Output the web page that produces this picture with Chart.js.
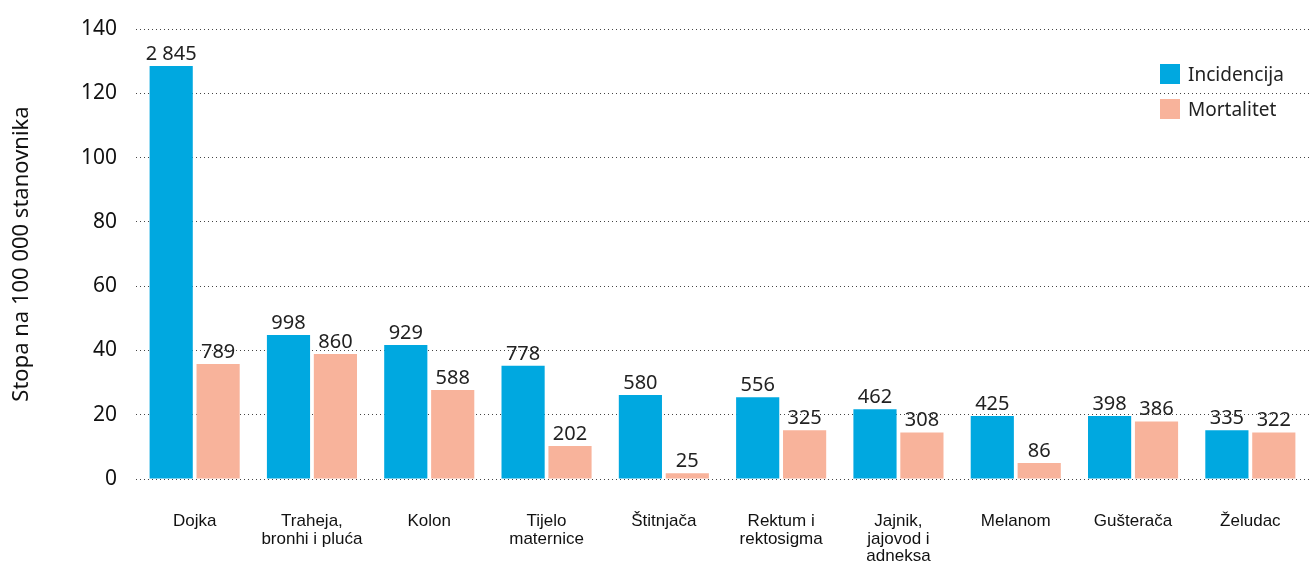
<!DOCTYPE html>
<html>
<head>
<meta charset="utf-8">
<script src="https://cdn.jsdelivr.net/npm/chart.js@4"></script>
<style>
  html, body { margin: 0; padding: 0; background: #fff; }
  #wrap { position: relative; width: 1309px; height: 563px; }
  #legend { position: absolute; left: 1160px; top: 56px; font-family: "Noto Sans", sans-serif; font-size: 19px; color: #222; }
  #legend div { display: flex; align-items: center; height: 35px; }
  #legend span { display: inline-block; width: 20px; height: 20px; margin-right: 8px; }
</style>
</head>
<body>
<div id="wrap">
  <canvas id="myChart" width="1309" height="563"></canvas>
  <div id="legend"></div>
</div>
<script>
const categories = [
  "Dojka", ["Traheja,", "bronhi i pluća"], "Kolon", ["Tijelo", "maternice"], "Štitnjača",
  ["Rektum i", "rektosigma"], ["Jajnik,", "jajovod i", "adneksa"], "Melanom", "Gušterača", "Želudac"
];
const incidenceRates = [128.5, 44.8, 41.7, 35.2, 26.1, 25.4, 21.7, 19.6, 19.6, 15.2];
const mortalityRates = [35.8, 38.9, 27.7, 10.3, 1.8, 15.2, 14.5, 5.0, 17.9, 14.5];
const incidenceCounts = ["2 845", "998", "929", "778", "580", "556", "462", "425", "398", "335"];
const mortalityCounts = ["789", "860", "588", "202", "25", "325", "308", "86", "386", "322"];
const seriesNames = ["Incidencija", "Mortalitet"];
const colors = ["#00a8e0", "#f8b39b"];

const legendEl = document.getElementById("legend");
seriesNames.forEach((name, i) => {
  const row = document.createElement("div");
  row.innerHTML = '<span style="background:' + colors[i] + '"></span>' + name;
  legendEl.appendChild(row);
});

// count labels above each bar
const countLabels = {
  id: "countLabels",
  afterDatasetsDraw(chart) {
    const ctx = chart.ctx;
    const lists = [incidenceCounts, mortalityCounts];
    ctx.save();
    ctx.font = "20px 'Noto Sans', sans-serif";
    ctx.fillStyle = "#222";
    ctx.textAlign = "center";
    ctx.textBaseline = "bottom";
    chart.data.datasets.forEach((ds, di) => {
      chart.getDatasetMeta(di).data.forEach((bar, i) => {
        ctx.fillText(lists[di][i], bar.x, bar.y - 2);
      });
    });
    ctx.restore();
  }
};

new Chart(document.getElementById("myChart"), {
  type: "bar",
  data: {
    labels: categories,
    datasets: [
      { label: seriesNames[0], data: incidenceRates, backgroundColor: colors[0] },
      { label: seriesNames[1], data: mortalityRates, backgroundColor: colors[1] }
    ]
  },
  plugins: [countLabels],
  options: {
    responsive: false,
    animation: false,
    categoryPercentage: 0.8,
    barPercentage: 0.92,
    layout: { padding: 0 },
    plugins: {
      legend: { display: false },
      tooltip: { enabled: false }
    },
    scales: {
      x: {
        afterFit(scale) { scale.height = 84; },
        grid: { display: false },
        border: { display: false },
        ticks: {
          color: "#111",
          padding: 26,
          maxRotation: 0,
          autoSkip: false,
          font: { family: "'Liberation Sans Narrow', 'Liberation Sans', sans-serif", size: 17, lineHeight: 1.03 }
        }
      },
      y: {
        min: 0,
        max: 140,
        afterFit(scale) {
          scale.width = 136;
          scale.paddingTop = 29;
        },
        border: { display: false, dash: [1, 3] },
        grid: {
          color: "#444",
          lineWidth: 1,
          drawTicks: false
        },
        ticks: {
          stepSize: 20,
          padding: 19,
          color: "#111",
          font: { family: "'Noto Sans', sans-serif", size: 21 }
        },
        title: {
          display: true,
          text: "Stopa na 100 000 stanovnika",
          color: "#111",
          padding: { top: 9, bottom: 0 },
          font: { family: "'Noto Sans', sans-serif", size: 22 }
        }
      }
    }
  }
});
</script>
</body>
</html>
